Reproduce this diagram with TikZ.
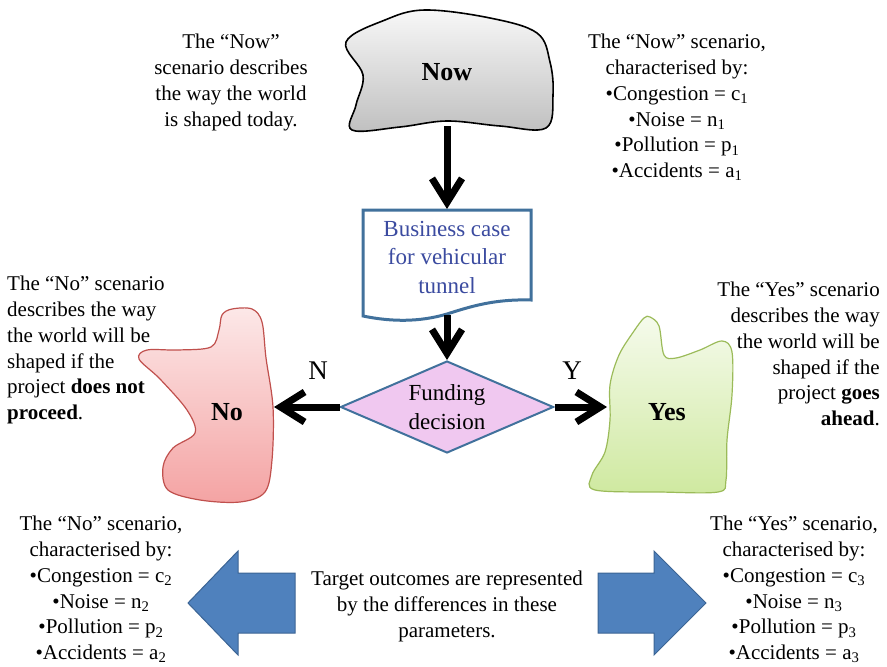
\documentclass[tikz,border=0pt]{standalone}
\usepackage{fontspec}
\setmainfont{Liberation Serif}
\usetikzlibrary{arrows.meta,shapes.geometric}

\definecolor{docblue}{HTML}{41719C}
\definecolor{doctext}{HTML}{3B4BA0}
\definecolor{blockfill}{HTML}{4F81BD}
\definecolor{blockline}{HTML}{3B6494}
\definecolor{decfill}{HTML}{F0C8F0}
\definecolor{nofill}{HTML}{F4A3A3}
\definecolor{noline}{HTML}{C0504D}
\definecolor{yesfill}{HTML}{CFE9A0}
\definecolor{yesline}{HTML}{9BBB59}

\tikzset{
  txt/.style={font=\fontsize{21}{25.8}\selectfont, inner sep=0pt},
  boxtxt/.style={font=\fontsize{23}{28.5}\selectfont, inner sep=0pt, align=center},
  blobtxt/.style={font=\bfseries\fontsize{26}{30}\selectfont, inner sep=0pt},
  yn/.style={font=\fontsize{27}{30}\selectfont, inner sep=0pt},
  flow/.style={line width=7pt, -{Straight Barb[length=24pt,width=30pt]}},
  blockarrow/.style={fill=blockfill, draw=blockline, line width=1pt},
}

\begin{document}
\begin{tikzpicture}[x=1pt,y=-1pt]
\useasboundingbox (0,0) rectangle (887,667);

% scenario shapes
\draw[line width=1.6pt, top color=gray!6, bottom color=gray!50]
  plot[smooth cycle, tension=0.6] coordinates {
    (346,42) (385,20) (425,10) (490,18) (537,33) (550,62) (553,95) (546,128)
    (500,126) (447,121) (400,127) (352,130) (356,105) (363,75)};
\node[blobtxt] (now) at (447,72) {Now};
\coordinate (nowB) at (447,126);

\draw[line width=1.2pt, draw=noline, top color=nofill!25, bottom color=nofill]
  plot[smooth cycle, tension=0.55] coordinates {
    (232,309) (252,309) (262,322) (266,358) (273,407) (272,460) (265,492)
    (240,502) (200,500) (168,490) (163,467) (173,448) (195,433) (187,410)
    (160,379) (139,359) (147,350) (178,350) (211,347) (219,330) (222,315)};
\node[blobtxt] (no) at (227,412) {No};
\coordinate (noR) at (274,407);

\draw[line width=1.2pt, draw=yesline, top color=yesfill!20, bottom color=yesfill]
  plot[smooth cycle, tension=0.55] coordinates {
    (650,317) (659,326) (664,355) (676,358) (700,350) (722,341) (732,352)
    (732,395) (727,440) (726,480) (718,492) (660,492) (595,490) (592,475)
    (605,452) (610,420) (610,385) (619,355) (634,331) (644,318)};
\node[blobtxt] (yes) at (667,412) {Yes};
\coordinate (yesL) at (607,407);

% business case document
\draw[docblue, line width=3pt, fill=white]
  (363,210) -- (531,210) -- (531,300)
  .. controls (495,299) and (472,306) .. (447,314)
  .. controls (420,322) and (392,322) .. (363,316) -- cycle;
\node[boxtxt, text=doctext] (biz) at (447,257) {Business case\\for vehicular\\tunnel};
\coordinate (bizT) at (447,209);
\coordinate (bizB) at (447,315);

% decision
\node[diamond, aspect=2.3, draw=docblue, line width=2pt, fill=decfill,
      minimum width=213pt, minimum height=92pt, inner sep=0pt] (dec) at (447,407) {};
\node[boxtxt] (dectxt) at (447,407) {Funding\\decision};

% flow arrows
\draw[flow] (nowB) -- (bizT);
\draw[flow] (bizB) -- (dec.north);
\draw[flow] (dec.west) -- (noR);
\draw[flow] (dec.east) -- (yesL);
\node[yn] (nlab) at (318,371) {N};
\node[yn] (ylab) at (572,371) {Y};

% descriptive texts
\node[txt, align=center, anchor=north] (nowdesc) at (231,34)
  {The “Now”\\scenario describes\\the way the world\\is shaped today.};
\node[txt, align=center, anchor=north] (nowpar) at (677,34)
  {The “Now” scenario,\\characterised by:\\•Congestion = c\textsubscript{1}\\•Noise = n\textsubscript{1}\\•Pollution = p\textsubscript{1}\\•Accidents = a\textsubscript{1}};
\node[txt, align=left, anchor=north west] (nodesc) at (7,276)
  {The “No” scenario\\describes the way\\the world will be\\shaped if the\\project \textbf{does not}\\\textbf{proceed}.};
\node[txt, align=right, anchor=north east] (yesdesc) at (880,282)
  {The “Yes” scenario\\describes the way\\the world will be\\shaped if the\\project \textbf{goes}\\\textbf{ahead}.};
\node[txt, align=center, anchor=north] (nopar) at (101,516)
  {The “No” scenario,\\characterised by:\\•Congestion = c\textsubscript{2}\\•Noise = n\textsubscript{2}\\•Pollution = p\textsubscript{2}\\•Accidents = a\textsubscript{2}};
\node[txt, align=center, anchor=north] (yespar) at (794,516)
  {The “Yes” scenario,\\characterised by:\\•Congestion = c\textsubscript{3}\\•Noise = n\textsubscript{3}\\•Pollution = p\textsubscript{3}\\•Accidents = a\textsubscript{3}};
\node[txt, align=center, anchor=north] (target) at (447,571)
  {Target outcomes are represented\\by the differences in these\\parameters.};

% block arrows
\draw[blockarrow] (188,603) -- (238,551) -- (238,573) -- (295,573)
  -- (295,633) -- (238,633) -- (238,655) -- cycle;
\draw[blockarrow] (706,603) -- (654,551) -- (654,573) -- (598,573)
  -- (598,633) -- (654,633) -- (654,655) -- cycle;
\end{tikzpicture}
\end{document}
